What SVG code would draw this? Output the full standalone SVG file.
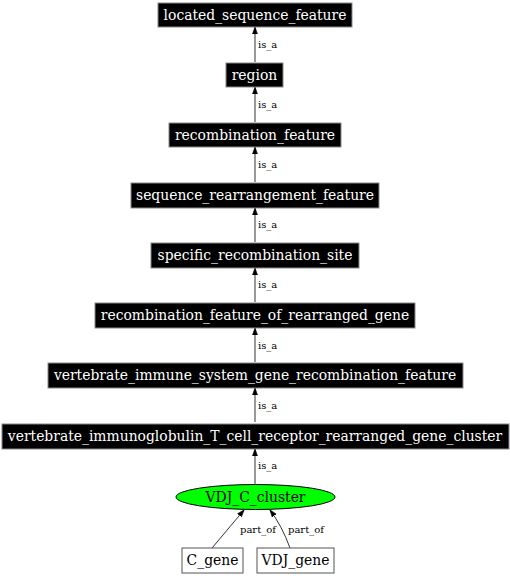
<svg xmlns="http://www.w3.org/2000/svg" width="510" height="576" viewBox="0 0 510 576">
<style>
.box{fill:#000;stroke:#888;stroke-width:1}
.wbox{fill:#fff;stroke:#555;stroke-width:1}
.t{font-family:"DejaVu Serif","Liberation Serif",serif;font-size:13.9px;text-anchor:middle;fill:#fff}
.tb{font-family:"DejaVu Serif","Liberation Serif",serif;font-size:13.9px;text-anchor:middle;fill:#000}
.l{font-family:"DejaVu Serif","Liberation Serif",serif;font-size:10px;fill:#000}
.e{stroke:#333;stroke-width:1;fill:none;marker-end:url(#ah)}
</style>
<defs>
<marker id="ah" viewBox="0 0 10 10" refX="10" refY="5" markerWidth="7" markerHeight="7" markerUnits="userSpaceOnUse" orient="auto">
<path d="M0,1.5 L10,5 L0,8.5 Z" fill="#000" stroke="#000"/>
</marker>
</defs>
<rect width="510" height="576" fill="#fff"/>
<g id="connectors">
<line class="e" x1="255" y1="62" x2="255" y2="27"/>
<text class="l" x="258" y="48">is_a</text>
<line class="e" x1="255" y1="122" x2="255" y2="87"/>
<text class="l" x="258" y="108">is_a</text>
<line class="e" x1="255" y1="182" x2="255" y2="147"/>
<text class="l" x="258" y="168">is_a</text>
<line class="e" x1="255" y1="242" x2="255" y2="208"/>
<text class="l" x="258" y="228">is_a</text>
<line class="e" x1="255" y1="302" x2="255" y2="268"/>
<text class="l" x="258" y="288">is_a</text>
<line class="e" x1="255" y1="362" x2="255" y2="328"/>
<text class="l" x="258" y="349">is_a</text>
<line class="e" x1="255" y1="422" x2="255" y2="388"/>
<text class="l" x="258" y="409">is_a</text>
<line class="e" x1="255" y1="484" x2="255" y2="449"/>
<text class="l" x="258" y="469">is_a</text>
<path class="e" d="M212,548 L244,510"/>
<text class="l" x="240" y="533">part_of</text>
<path class="e" d="M290,548 Q282,526 270,510"/>
<text class="l" x="288" y="533">part_of</text>
</g>
<g id="n1"><rect class="box" x="158" y="3" width="194" height="24"/><text class="t" x="255" y="19.5">located_sequence_feature</text></g>
<g id="n2"><rect class="box" x="226" y="63" width="57" height="24"/><text class="t" x="254.5" y="79.5">region</text></g>
<g id="n3"><rect class="box" x="169" y="123" width="172" height="24"/><text class="t" x="255" y="139.5">recombination_feature</text></g>
<g id="n4"><rect class="box" x="131" y="183" width="248" height="25"/><text class="t" x="255" y="199.5">sequence_rearrangement_feature</text></g>
<g id="n5"><rect class="box" x="151" y="243" width="208" height="25"/><text class="t" x="255" y="259.5">specific_recombination_site</text></g>
<g id="n6"><rect class="box" x="95" y="303" width="320" height="25"/><text class="t" x="255" y="319.5">recombination_feature_of_rearranged_gene</text></g>
<g id="n7"><rect class="box" x="48" y="363" width="415" height="25"/><text class="t" x="255" y="379.5">vertebrate_immune_system_gene_recombination_feature</text></g>
<g id="n8"><rect class="box" x="2" y="424" width="507" height="25"/><text class="t" x="255" y="440.5">vertebrate_immunoglobulin_T_cell_receptor_rearranged_gene_cluster</text></g>
<g id="n9"><ellipse cx="255.5" cy="497" rx="79.5" ry="12.5" fill="#00ff00" stroke="#000"/><text class="tb" x="255.5" y="501.5">VDJ_C_cluster</text></g>
<g id="n10"><rect class="wbox" x="182" y="548" width="61" height="25"/><text class="tb" x="212.5" y="565">C_gene</text></g>
<g id="n11"><rect class="wbox" x="257" y="548" width="77" height="25"/><text class="tb" x="295.5" y="565">VDJ_gene</text></g>
</svg>
